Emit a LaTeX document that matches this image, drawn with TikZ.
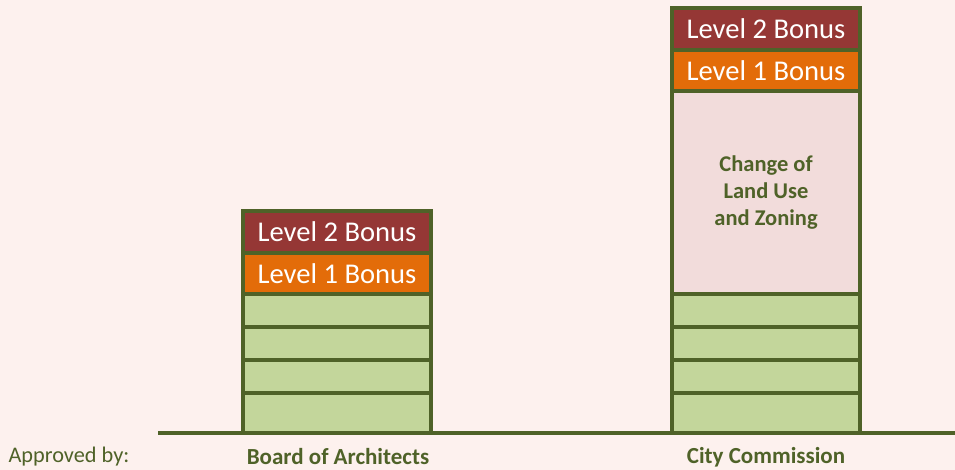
\documentclass[tikz,border=0pt]{standalone}
\usepackage{fontspec}
\setmainfont{Carlito}
\usetikzlibrary{positioning}
\definecolor{bgpink}{HTML}{FDF1EE}
\definecolor{olive}{HTML}{4F6228}
\definecolor{bonustwo}{HTML}{953735}
\definecolor{bonusone}{HTML}{E36C09}
\definecolor{floorgreen}{HTML}{C3D69B}
\definecolor{changepink}{HTML}{F2DCDB}

\begin{document}
\begin{tikzpicture}[x=1pt, y=-1pt,
  layer/.style = {shape=rectangle, draw=olive, line width=3.4pt,
    minimum width=188pt, inner sep=0pt, outer sep=0pt},
  floor/.style = {layer, fill=floorgreen, minimum height=33pt},
  bonus/.style = {layer, text=white, minimum height=41pt,
    font=\fontsize{28.6}{32}\selectfont},
  change/.style = {layer, fill=changepink, text=olive, align=center,
    font=\fontsize{22.5}{27}\selectfont\bfseries},
  caption/.style = {text=olive, font=\fontsize{23}{26}\selectfont\bfseries}]

  \fill[bgpink] (0,0) rectangle (955,470);
  \useasboundingbox (0,0) rectangle (955,470);

  % Board of Architects
  \node[floor, minimum height=40pt] (boa-f1) at (337,413) {};
  \node[floor, above=0pt of boa-f1] (boa-f2) {};
  \node[floor, above=0pt of boa-f2] (boa-f3) {};
  \node[floor, above=0pt of boa-f3] (boa-f4) {};
  \node[bonus, fill=bonusone, above=0pt of boa-f4] (boa-lv1) {Level 1 Bonus};
  \node[bonus, fill=bonustwo, minimum height=42pt, above=0pt of boa-lv1] (boa-lv2) {Level 2 Bonus};

  % City Commission
  \node[floor, minimum height=40pt] (cc-f1) at (766,413) {};
  \node[floor, above=0pt of cc-f1] (cc-f2) {};
  \node[floor, above=0pt of cc-f2] (cc-f3) {};
  \node[floor, above=0pt of cc-f3] (cc-f4) {};
  \node[change, minimum height=203pt, above=0pt of cc-f4] (cc-chg) {Change of\\Land Use\\and Zoning};
  \node[bonus, fill=bonusone, above=0pt of cc-chg] (cc-lv1) {Level 1 Bonus};
  \node[bonus, fill=bonustwo, minimum height=42pt, above=0pt of cc-lv1] (cc-lv2) {Level 2 Bonus};

  % ground
  \coordinate (ground-w) at (158,433);
  \coordinate (ground-e) at (955,433);
  \draw[olive, line width=3.6pt] (ground-w) -- (ground-e);

  \node[anchor=west, text=olive, font=\fontsize{22.3}{24}\selectfont] (approved) at (5,457) {Approved by:};
  \node[caption] (boa-label) at (338,457) {Board of Architects};
  \node[caption] (cc-label) at (766,457) {City Commission};
\end{tikzpicture}
\end{document}
